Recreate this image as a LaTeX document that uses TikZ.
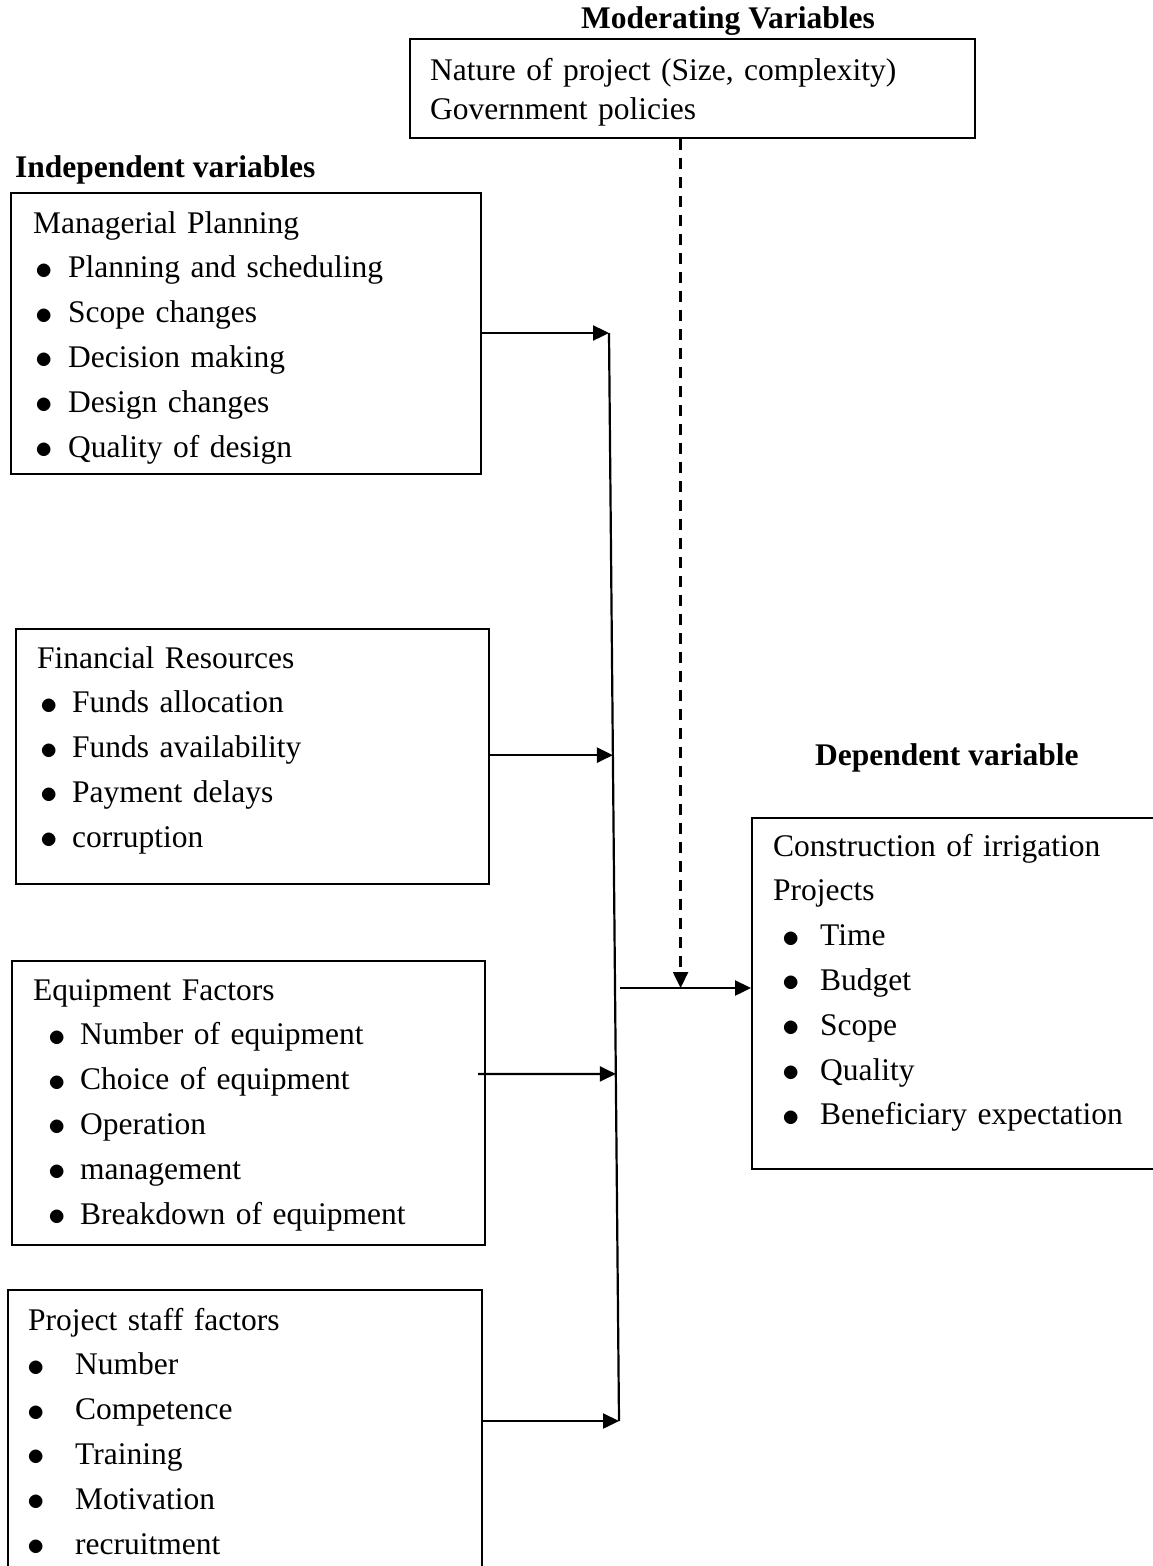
\documentclass[tikz,border=0pt]{standalone}
\usepackage{graphicx}
\usepackage{fontspec}
\setmainfont{Liberation Serif}
\usetikzlibrary{arrows.meta,positioning,calc}

% bullet line: shift, bullet width, text
\newcommand{\bul}[3]{\hspace*{#1pt}\makebox[#2pt][l]{\raisebox{-1.5pt}{\scalebox{1.4}{$\bullet$}}}#3}

\tikzset{
  box/.style={draw,line width=2.2pt,anchor=north west,inner sep=0pt},
  txt/.style={anchor=base west,align=left,inner sep=0pt,text width=440pt,
    font=\fontsize{31.5}{44.8}\selectfont},
  head/.style={inner sep=0pt,font=\fontsize{31.5}{36}\selectfont\bfseries},
  arr/.style={-{Triangle[length=16pt,width=15pt]},line width=2.4pt}
}

\begin{document}
\begin{tikzpicture}[x=1pt,y=-1pt]
  \clip (0,0) rectangle (1153,1566);

  % moderating variables
  \node[head,anchor=base] (modhead) at (728,28) {Moderating Variables};
  \node[box,minimum width=565,minimum height=99] (mod) at (409,38) {};
  \node[txt,text width=540pt,font=\fontsize{31.5}{39.5}\selectfont] (modtxt) at (430,80)
    {Nature of project (Size, complexity)\\Government policies};

  % independent variables
  \node[head,anchor=base west] (indhead) at (15,177) {Independent variables};

  \node[box,minimum width=470,minimum height=281] (plan) at (10,192) {};
  \node[txt] (plantxt) at (33,233) {Managerial Planning\\
    \bul{2}{33}{Planning and scheduling}\\
    \bul{2}{33}{Scope changes}\\
    \bul{2}{33}{Decision making}\\
    \bul{2}{33}{Design changes}\\
    \bul{2}{33}{Quality of design}};

  \node[box,minimum width=473,minimum height=255] (fin) at (15,628) {};
  \node[txt] (fintxt) at (37,668) {Financial Resources\\
    \bul{3}{32}{Funds allocation}\\
    \bul{3}{32}{Funds availability}\\
    \bul{3}{32}{Payment delays}\\
    \bul{3}{32}{corruption}};

  \node[box,minimum width=473,minimum height=284] (equip) at (11,960) {};
  \node[txt] (equiptxt) at (33,1000) {Equipment Factors\\
    \bul{15}{32}{Number of equipment}\\
    \bul{15}{32}{Choice of equipment}\\
    \bul{15}{32}{Operation}\\
    \bul{15}{32}{management}\\
    \bul{15}{32}{Breakdown of equipment}};

  \node[box,minimum width=474,minimum height=320] (staff) at (7,1289) {};
  \node[txt] (stafftxt) at (28,1330) {Project staff factors\\
    \bul{-1}{48}{Number}\\
    \bul{-1}{48}{Competence}\\
    \bul{-1}{48}{Training}\\
    \bul{-1}{48}{Motivation}\\
    \bul{-1}{48}{recruitment}};

  % dependent variable
  \node[head,anchor=base west] (dephead) at (815,765) {Dependent variable};
  \node[box,minimum width=420,minimum height=351] (dep) at (751,817) {};
  \node[txt] (deptxt) at (773,856) {Construction of irrigation\\Projects\\
    \bul{9}{38}{Time}\\
    \bul{9}{38}{Budget}\\
    \bul{9}{38}{Scope}\\
    \bul{9}{38}{Quality}\\
    \bul{9}{38}{Beneficiary expectation}};

  % collecting line
  \coordinate (bustop) at (609,333);
  \coordinate (busbot) at (619,1421);
  \coordinate (bus2) at ($(bustop)!0.388!(busbot)$);
  \coordinate (bus3) at ($(bustop)!0.681!(busbot)$);
  \coordinate (join) at (620,988);
  \draw[line width=2.2pt] (bustop) -- (busbot);

  \draw[arr] (plan.east |- bustop) -- (bustop);
  \draw[arr] (fin.east |- bus2) -- (bus2);
  \draw[arr] (478,1074) -- (bus3);
  \draw[arr] (staff.east |- busbot) -- (busbot);

  \draw[arr] (join) -- (join -| dep.west);

  \coordinate (dashtop) at ($(mod.south)+(-12,0)$);
  \draw[arr,dash pattern=on 11pt off 8pt] (dashtop) -- (dashtop |- join);
\end{tikzpicture}
\end{document}
